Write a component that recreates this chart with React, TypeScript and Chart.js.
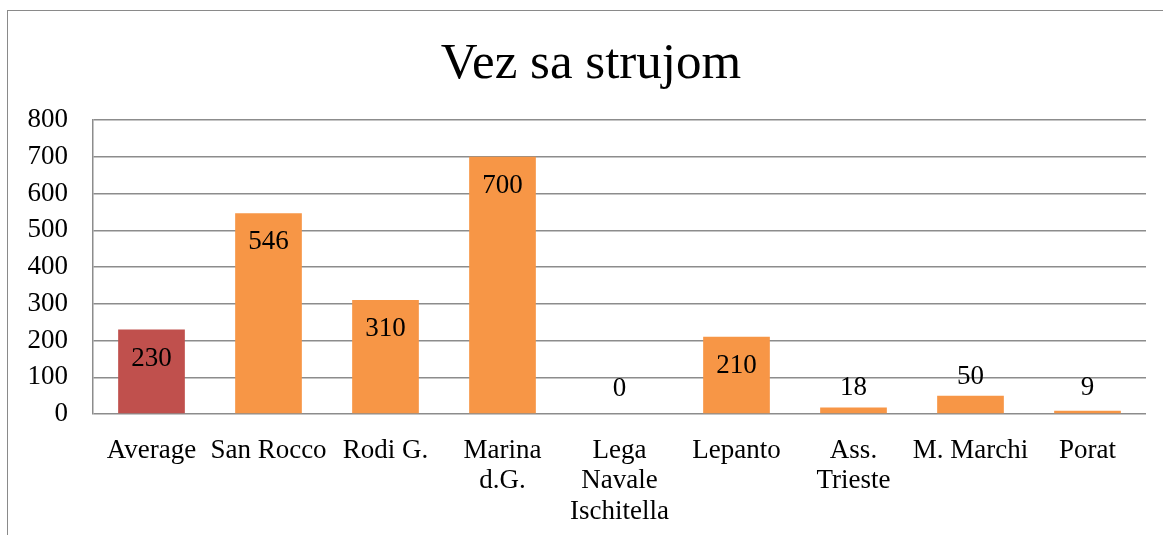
import React, { useEffect, useRef } from "react";
import { Chart, registerables } from "chart.js";

Chart.register(...registerables);

const chartTitle = "Vez sa strujom";
const categories: (string | string[])[] = [
  "Average",
  "San Rocco",
  "Rodi G.",
  ["Marina", "d.G."],
  ["Lega", "Navale", "Ischitella"],
  "Lepanto",
  ["Ass.", "Trieste"],
  "M. Marchi",
  "Porat",
];
const values = [230, 546, 310, 700, 0, 210, 18, 50, 9];
const barColors = [
  "#C0504D",
  "#F79646",
  "#F79646",
  "#F79646",
  "#F79646",
  "#F79646",
  "#F79646",
  "#F79646",
  "#F79646",
];
const yTicks = [0, 100, 200, 300, 400, 500, 600, 700, 800];

const FONT = "'Liberation Serif', 'Times New Roman', serif";

const titlePlugin = {
  id: "customTitle",
  afterDraw(chart: any) {
    const ctx = chart.ctx;
    ctx.save();
    ctx.font = `51px ${FONT}`;
    ctx.fillStyle = "#000";
    ctx.textAlign = "center";
    ctx.textBaseline = "alphabetic";
    ctx.fillText(chartTitle, 591, 78);
    ctx.restore();
  },
};

const valueLabels = {
  id: "valueLabels",
  afterDatasetsDraw(chart: any) {
    const ctx = chart.ctx;
    const meta = chart.getDatasetMeta(0);
    ctx.save();
    ctx.font = `27px ${FONT}`;
    ctx.fillStyle = "#000";
    ctx.textAlign = "center";
    ctx.textBaseline = "middle";
    meta.data.forEach((el: any, i: number) => {
      const top = el.y;
      const base = el.base;
      let y: number;
      if (base - top >= 60) y = top + 29;
      else y = Math.min(base - 25, top - 19);
      ctx.fillText(String(values[i]), el.x, y);
    });
    ctx.restore();
  },
};

export default function App() {
  const ref = useRef<HTMLCanvasElement>(null);
  useEffect(() => {
    const canvas = ref.current!;
    const chart = new Chart(canvas, {
      type: "bar",
      data: {
        labels: categories,
        datasets: [
          {
            data: values,
            backgroundColor: barColors,
            borderWidth: 0,
            barPercentage: 0.57,
            categoryPercentage: 1,
          },
        ],
      },
      plugins: [valueLabels, titlePlugin],
      options: {
        responsive: false,
        animation: false,
        layout: { padding: { left: 0, top: 120, right: 17, bottom: 0 } },
        plugins: {
          legend: { display: false },
          tooltip: { enabled: false },
          title: { display: false },
        },
        scales: {
          x: {
            grid: { display: false, drawTicks: false },
            border: { display: false },
            ticks: {
              color: "#000",
              font: { family: FONT, size: 27, lineHeight: 1.12 },
              padding: 22,
              maxRotation: 0,
              autoSkip: false,
            },
            afterFit: (s: any) => {
              s.height = 121;
            },
          },
          y: {
            min: 0,
            max: 800,
            afterBuildTicks: (s: any) => {
              s.ticks = yTicks.map((v) => ({ value: v }));
            },
            grid: { color: "#8c8c8c", lineWidth: 1.5, drawTicks: false },
            border: { display: true, color: "#8c8c8c", width: 1.5 },
            ticks: {
              color: "#000",
              font: { family: FONT, size: 27 },
              padding: 25,
            },
            afterFit: (s: any) => {
              s.width = 93;
            },
          },
        },
      },
    });
    return () => chart.destroy();
  }, []);

  return (
    <div style={{ position: "fixed", left: 0, top: 0, width: 1163, height: 535, background: "#fff" }}>
      <div
        style={{
          position: "absolute",
          left: 7,
          top: 10,
          width: 1200,
          height: 600,
          borderLeft: "1.5px solid #8a8a8a",
          borderTop: "1.5px solid #8a8a8a",
        }}
      />
      <canvas ref={ref} width={1163} height={535} style={{ position: "absolute", left: 0, top: 0 }} />
    </div>
  );
}
